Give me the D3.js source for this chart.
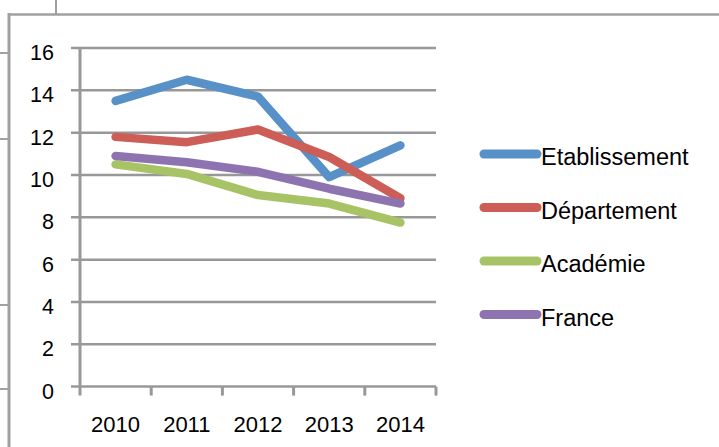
<!DOCTYPE html>
<html>
<head>
<meta charset="utf-8">
<script src="https://cdn.jsdelivr.net/npm/d3@7"></script>
<style>
  body { margin: 0; background: #fff; }
  svg { display: block; font-family: "Liberation Sans", Arial, sans-serif; }
</style>
</head>
<body>
<svg width="719" height="447"></svg>
<script>
var years = ["2010", "2011", "2012", "2013", "2014"];
var seriesNames = ["Etablissement", "Département", "Académie", "France"];
var etablissement = [13.5, 14.5, 13.7, 9.9, 11.4];
var departement = [11.8, 11.55, 12.15, 10.85, 8.9];
var academie = [10.5, 10.05, 9.05, 8.65, 7.75];
var france = [10.9, 10.6, 10.15, 9.35, 8.65];
var yTicks = [0, 2, 4, 6, 8, 10, 12, 14, 16];
var colors = ["#5890c8", "#cc5e57", "#a7c366", "#8d74b0"];

var allValues = [etablissement, departement, academie, france];

var svg = d3.select("svg");

// frame left over from the spreadsheet
var frame = svg.append("g").attr("stroke", "#a0a0a0").attr("fill", "none");
frame.append("line").attr("x1", 9).attr("x2", 9).attr("y1", 13).attr("y2", 447).attr("stroke-width", 3);
frame.append("line").attr("x1", 8).attr("x2", 719).attr("y1", 14.5).attr("y2", 14.5).attr("stroke-width", 2.5);
frame.append("line").attr("x1", 56).attr("x2", 56).attr("y1", 0).attr("y2", 14).attr("stroke-width", 2);
[53, 139, 305, 389].forEach(function(yy) {
  frame.append("line").attr("x1", 0).attr("x2", 9).attr("y1", yy).attr("y2", yy).attr("stroke-width", 2);
});

var x = d3.scaleBand().domain(years).range([80, 436]);
var y = d3.scaleLinear().domain([0, 16]).range([386.6, 48]);

// gridlines
svg.append("g")
  .selectAll("line")
  .data(yTicks)
  .enter().append("line")
    .attr("x1", 71)
    .attr("x2", 436)
    .attr("y1", function(d) { return y(d); })
    .attr("y2", function(d) { return y(d); })
    .attr("stroke", "#989898")
    .attr("stroke-width", 2.5);

// y axis line
svg.append("line")
  .attr("x1", 80).attr("x2", 80)
  .attr("y1", y(16) - 1).attr("y2", y(0) + 9)
  .attr("stroke", "#989898")
  .attr("stroke-width", 3);

// x axis ticks at band edges
var edges = years.map(function(d) { return x(d); }).concat([x.range()[1]]);
svg.append("g")
  .selectAll("line")
  .data(edges.slice(1))
  .enter().append("line")
    .attr("x1", function(d) { return d; })
    .attr("x2", function(d) { return d; })
    .attr("y1", y(0))
    .attr("y2", y(0) + 9)
    .attr("stroke", "#989898")
    .attr("stroke-width", 3);

// y labels
svg.append("g")
  .selectAll("text")
  .data(yTicks)
  .enter().append("text")
    .attr("x", 54)
    .attr("y", function(d) { return y(d) + 12; })
    .attr("text-anchor", "end")
    .attr("font-size", 21.5)
    .attr("fill", "#000")
    .text(function(d) { return d; });

// x labels
svg.append("g")
  .selectAll("text")
  .data(years)
  .enter().append("text")
    .attr("x", function(d) { return x(d) + x.bandwidth() / 2; })
    .attr("y", 432)
    .attr("text-anchor", "middle")
    .attr("font-size", 22)
    .attr("fill", "#000")
    .text(function(d) { return d; });

var line = d3.line()
  .x(function(d, i) { return x(years[i]) + x.bandwidth() / 2; })
  .y(function(d) { return y(d); });

svg.append("g")
  .selectAll("path")
  .data(allValues)
  .enter().append("path")
    .attr("d", line)
    .attr("fill", "none")
    .attr("stroke", function(d, i) { return colors[i]; })
    .attr("stroke-width", 8.5)
    .attr("stroke-linecap", "round")
    .attr("stroke-linejoin", "round");

// legend
var legend = svg.append("g")
  .selectAll("g")
  .data(seriesNames)
  .enter().append("g")
    .attr("transform", function(d, i) { return "translate(0," + (154 + i * 53.5) + ")"; });

legend.append("line")
  .attr("x1", 484).attr("x2", 537)
  .attr("y1", 0).attr("y2", 0)
  .attr("stroke", function(d, i) { return colors[i]; })
  .attr("stroke-width", 9)
  .attr("stroke-linecap", "round");

legend.append("text")
  .attr("x", 541)
  .attr("y", 11)
  .attr("font-size", 23.5)
  .attr("fill", "#000")
  .text(function(d) { return d; });
</script>
</body>
</html>
